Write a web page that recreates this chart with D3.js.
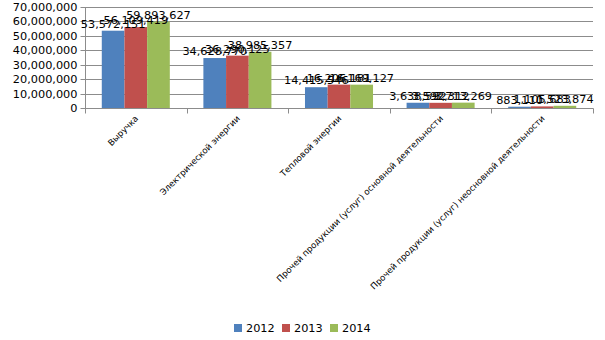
<!DOCTYPE html>
<html><head><meta charset="utf-8">
<script src="https://cdn.jsdelivr.net/npm/d3@7"></script>
<style>body{margin:0;background:#fff}svg{display:block}</style>
</head><body>
<svg id="c" width="605" height="340"></svg>
<script>
const categories = ["Выручка","Электрической энергии","Тепловой энергии","Прочей продукции (услуг) основной деятельности","Прочей продукции (услуг) неосновной деятельности"];
const seriesNames = ["2012","2013","2014"];
const v2012 = [53572151, 34628770, 14415546, 3638592, 883110];
const v2013 = [56109419, 36290125, 16206181, 3592312, 1105683];
const v2014 = [59893627, 38985357, 16169127, 3713269, 1523874];
const yTicks = [0,10000000,20000000,30000000,40000000,50000000,60000000,70000000];
const colors = ["#4F81BD","#C0504D","#9BBB59"];
const series = [v2012, v2013, v2014];

const svg = d3.select("#c");
const X0 = 85, X1 = 593, YTOP = 7, YBOT = 108;
const x = d3.scaleBand().domain(categories).range([X0, X1]).padding(0);
const xs = d3.scaleBand().domain(seriesNames).range([0, x.bandwidth()]).paddingInner(0).paddingOuter(0.74);
const y = d3.scaleLinear().domain([0, 70000000]).range([YBOT, YTOP]);
const fmt = d3.format(",");
const font = "DejaVu Sans, Verdana, sans-serif";

// gridlines
svg.append("g").selectAll("line").data(yTicks.slice(1)).join("line")
  .attr("x1", X0).attr("x2", X1).attr("y1", d => Math.round(y(d)) + 0.5).attr("y2", d => Math.round(y(d)) + 0.5)
  .attr("stroke", "#8c8c8c").attr("stroke-width", 1);

// y axis
const ya = svg.append("g").attr("transform", `translate(${X0 + 0.5},0)`)
  .call(d3.axisLeft(y).tickValues(yTicks).tickFormat(fmt).tickSize(5).tickPadding(3));
ya.selectAll("path").attr("stroke", "#8c8c8c").attr("d", `M-5,${YTOP}H0V${YBOT}`);
ya.select(".domain").attr("d", `M0,${Math.round(y(70000000))+0.5}V${YBOT+0.5}`);
ya.selectAll(".tick line").attr("stroke", "#8c8c8c");
ya.selectAll(".tick").attr("transform", d => `translate(0,${Math.round(y(d)) + 0.5})`);
ya.selectAll("text").attr("font-family", font).attr("font-size", "11.3px").attr("fill", "#000");

// bars
const g = svg.append("g");
categories.forEach((c, i) => {
  series.forEach((s, j) => {
    g.append("rect")
      .attr("x", x(c) + xs(seriesNames[j]))
      .attr("y", y(s[i]))
      .attr("width", xs.bandwidth())
      .attr("height", YBOT - y(s[i]))
      .attr("fill", colors[j]);
  });
});

// x axis
const xa = svg.append("g").attr("transform", `translate(0,${YBOT + 0.5})`);
xa.append("line").attr("x1", X0).attr("x2", X1 + 0.5).attr("stroke", "#8c8c8c");
const bounds = categories.map(c => x(c)).concat([X1]);
xa.selectAll(".tk").data(bounds).join("line").attr("class", "tk")
  .attr("x1", d => Math.round(d) + 0.5).attr("x2", d => Math.round(d) + 0.5)
  .attr("y1", 0).attr("y2", 5).attr("stroke", "#8c8c8c");

// data labels
categories.forEach((c, i) => {
  series.forEach((s, j) => {
    svg.append("text")
      .attr("x", x(c) + xs(seriesNames[j]) + xs.bandwidth() / 2)
      .attr("y", y(s[i]) - 3)
      .attr("text-anchor", "middle")
      .attr("font-family", font).attr("font-size", "11.3px").attr("fill", "#000")
      .text(fmt(s[i]));
  });
});

// category labels
svg.append("g").selectAll("text").data(categories).join("text")
  .attr("transform", d => `translate(${x(d) + x.bandwidth() / 2 + 3},${YBOT + 11}) rotate(-45)`)
  .attr("text-anchor", "end")
  .attr("font-family", font).attr("font-size", "8.6px").attr("fill", "#000")
  .text(d => d);

// legend
const leg = svg.append("g");
const lx = [234, 282, 330];
seriesNames.forEach((n, j) => {
  leg.append("rect").attr("x", lx[j]).attr("y", 324).attr("width", 8).attr("height", 8).attr("fill", colors[j]);
  leg.append("text").attr("x", lx[j] + 12).attr("y", 332)
    .attr("font-family", font).attr("font-size", "11.3px").attr("fill", "#000").text(n);
});
</script>
</body></html>
